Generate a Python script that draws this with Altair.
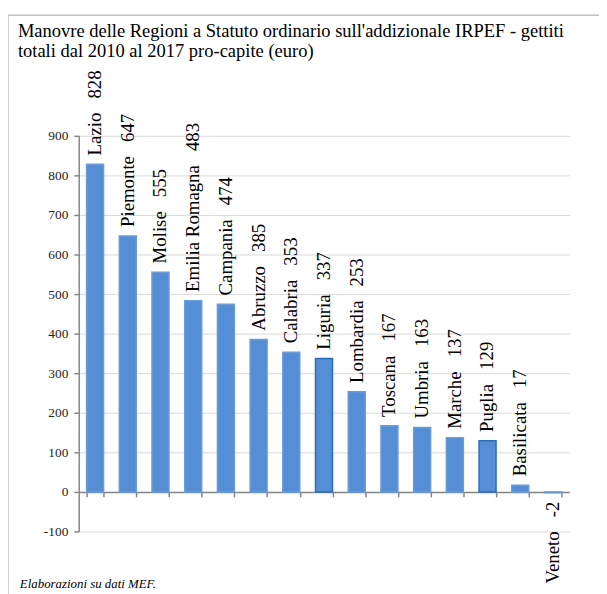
import altair as alt
import pandas as pd

regions = ["Lazio", "Piemonte", "Molise", "Emilia Romagna", "Campania", "Abruzzo",
           "Calabria", "Liguria", "Lombardia", "Toscana", "Umbria", "Marche",
           "Puglia", "Basilicata", "Veneto"]
values = [828, 647, 555, 483, 474, 385, 353, 337, 253, 167, 163, 137, 129, 17, -2]
outlined = ["Liguria", "Puglia"]
y_ticks = [-100, 0, 100, 200, 300, 400, 500, 600, 700, 800, 900]

title_lines = ["Manovre delle Regioni a Statuto ordinario sull'addizionale IRPEF - gettiti",
               "totali  dal 2010 al 2017 pro-capite (euro)"]
footnote = "Elaborazioni su dati MEF."

SP = "\u00a0\u00a0\u00a0"
df = pd.DataFrame({
    "regione": regions,
    "valore": values,
    "label": [f"{r}{SP}{v}" for r, v in zip(regions, values)],
    "outlined": [r in outlined for r in regions],
})

FONT = "Liberation Serif"
W, H = 496, 400

x = alt.X("regione:N", sort=None,
          scale=alt.Scale(paddingInner=0.48, paddingOuter=0.24),
          axis=alt.Axis(title=None, labels=False, ticks=True, tickBand="extent",
                        tickSize=5, tickColor="#868686", tickWidth=1.5,
                        domainColor="#868686", domainWidth=1.5, offset=-40,
                        grid=False))
y = alt.Y("valore:Q",
          scale=alt.Scale(domain=[-100, 900], nice=False, zero=False),
          axis=alt.Axis(title=None, values=y_ticks, grid=True, gridColor="#d9d9d9",
                        gridWidth=1, domainColor="#868686", domainWidth=1.5,
                        tickColor="#868686", tickSize=5, tickWidth=1.5,
                        labelFont=FONT, labelFontSize=13.5, labelColor="#222222",
                        labelPadding=6, labelOverlap=False,
                        labelExpr="'' + datum.value"))

base = alt.Chart(df)

bars = base.mark_bar(strokeWidth=1.5).encode(
    x=x, y=y,
    stroke=alt.condition("datum.outlined", alt.value("#2a6ebb"), alt.value("#6a9cdc")),
    color=alt.value("#558ED5"),
)

pos_labels = base.transform_filter("datum.valore >= 0").mark_text(
    angle=270, align="left", baseline="middle", dx=9,
    font=FONT, fontSize=19, color="black",
).encode(x=x, y=y, text="label:N")

neg_labels = base.transform_filter("datum.valore < 0").mark_text(
    angle=270, align="right", baseline="middle", dx=-9,
    font=FONT, fontSize=19, color="black",
).encode(x=x, y=y, text="label:N")

note = alt.Chart(pd.DataFrame({"t": [footnote]})).mark_text(
    align="left", baseline="alphabetic", font=FONT, fontSize=13,
    fontStyle="italic", color="black",
).encode(x=alt.value(-59.5), y=alt.value(457), text="t:N")

frame_top = alt.Chart(pd.DataFrame({"a": [0]})).mark_rule(
    color="#bfbfbf", strokeWidth=1.5).encode(
    x=alt.value(-71.5), x2=alt.value(530), y=alt.value(-122))
frame_left = alt.Chart(pd.DataFrame({"a": [0]})).mark_rule(
    color="#bfbfbf", strokeWidth=1.5).encode(
    x=alt.value(-71.5), y=alt.value(-122), y2=alt.value(470))

chart = alt.layer(bars, pos_labels, neg_labels, note, frame_top, frame_left).properties(
    width=W, height=H,
    title=alt.TitleParams(text=title_lines, anchor="start", frame="group",
                          font=FONT, fontSize=18.7, fontWeight="normal",
                          color="black", lineHeight=20, dx=-61.5, dy=57, offset=10),
    autosize=alt.AutoSizeParams(type="none"),
    padding={"left": 71.5, "top": 126, "right": 30, "bottom": 60},
).configure_view(stroke=None).configure_axis(labelFont=FONT).configure_text(font=FONT)

chart.save("out.html", embed_options={"renderer": "svg", "actions": False})
